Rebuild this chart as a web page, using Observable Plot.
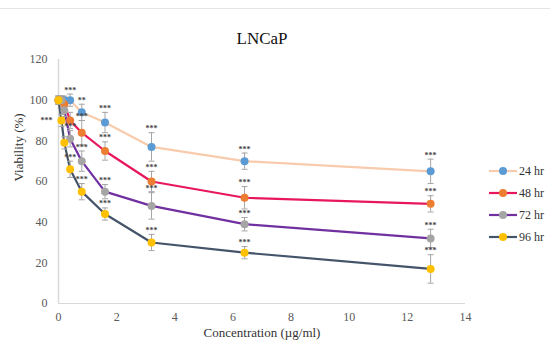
<!DOCTYPE html>
<html>
<head>
<meta charset="utf-8">
<script src="https://cdn.jsdelivr.net/npm/d3@7"></script>
<script src="https://cdn.jsdelivr.net/npm/@observablehq/plot@0.6"></script>
<style>
  html, body { margin: 0; padding: 0; background: #fff; }
  #wrap { position: relative; width: 550px; height: 347px; font-family: "Liberation Serif", "Times New Roman", serif; }
  #topline { position: absolute; left: 0; top: 8px; width: 550px; height: 1px; background: #e4e4e4; }
  #legend { position: absolute; left: 489px; top: 160px; font-size: 12px; color: #333; }
  .row { display: flex; align-items: center; height: 22px; }
  .row svg { margin-right: 2px; }
  svg text { font-family: "Liberation Serif", "Times New Roman", serif; }
</style>
</head>
<body>
<div id="wrap"><div id="topline"></div><div id="legend"></div></div>
<script>
const conc = [0, 0.1, 0.2, 0.4, 0.8, 1.6, 3.2, 6.4, 12.8];
const seriesNames = ["24 hr", "48 hr", "72 hr", "96 hr"];
const v24 = [100, 100, 100, 100, 94, 89, 77, 70, 65];
const e24 = [2, 2, 2, 3, 4, 5, 7, 4, 6];
const s24 = ["", "", "", "***", "**", "***", "***", "***", "***"];
const v48 = [100, 100, 98, 90, 84, 75, 60, 52, 49];
const e48 = [2, 2, 3, 4, 6, 4.5, 5, 5.5, 4];
const s48 = ["", "", "", "", "***", "***", "***", "***", "***"];
const v72 = [100, 100, 95, 81, 70, 55, 48, 39, 32];
const e72 = [2, 2, 3, 4, 5, 3.5, 6.5, 3.3, 4.5];
const s72 = ["", "", "", "***", "***", "***", "***", "***", "***"];
const v96 = [100, 90, 79, 66, 55, 44, 30, 25, 17];
const e96 = [2, 3, 3, 4, 4, 3, 4, 3, 7];
const s96 = ["", "", "", "***", "***", "***", "***", "***", "***"];
const xTicks = [0, 2, 4, 6, 8, 10, 12, 14];
const yTicks = [0, 20, 40, 60, 80, 100, 120];

const lineColors = ["#F8CBAD", "#E8175D", "#7030A0", "#44546A"];
const dotColors = ["#5B9BD5", "#ED7D31", "#A5A5A5", "#FFC000"];

const vals = [v24, v48, v72, v96];
const errs = [e24, e48, e72, e96];
const stars = [s24, s48, s72, s96];
const data = [];
seriesNames.forEach((s, i) => conc.forEach((c, j) => data.push({series: s, c, v: vals[i][j], e: errs[i][j], star: stars[i][j]})));

const fillOf = d => dotColors[seriesNames.indexOf(d.series)];
const strokeOf = d => lineColors[seriesNames.indexOf(d.series)];
const capSymbol = {draw(ctx) { ctx.moveTo(-3, 0); ctx.lineTo(3, 0); }};

const chart = Plot.plot({
  width: 550, height: 347,
  marginLeft: 58, marginRight: 85, marginTop: 59, marginBottom: 44,
  style: {fontFamily: "'Liberation Serif', 'Times New Roman', serif", fontSize: "12px", color: "#595959", background: "transparent"},
  x: {type: "linear", domain: [0, 14]},
  y: {type: "linear", domain: [0, 120]},
  marks: [
    Plot.ruleX([0], {stroke: "#d9d9d9", strokeWidth: 1.5}),
    Plot.ruleY([0], {stroke: "#d9d9d9", strokeWidth: 1}),
    Plot.axisY({ticks: yTicks, tickSize: 0, tickPadding: 11, label: null}),
    Plot.axisX({ticks: xTicks, tickSize: 0, tickPadding: 9, label: null}),
    Plot.text(["Viability (%)"], {frameAnchor: "left", dx: -40, rotate: -90, fontSize: 13, fill: "#333"}),
    Plot.text(["Concentration (µg/ml)"], {frameAnchor: "bottom", dy: 33, fontSize: 13, fill: "#333"}),
    Plot.text(["LNCaP"], {frameAnchor: "top", dy: -28, fontSize: 17, fill: "#111"}),
    Plot.line(data, {x: "c", y: "v", z: "series", stroke: strokeOf, strokeWidth: 2.2}),
    Plot.ruleX(data, {x: "c", y1: d => d.v - d.e, y2: d => d.v + d.e, stroke: "#A5A5A5", strokeWidth: 1}),
    Plot.dot(data, {x: "c", y: d => d.v - d.e, symbol: capSymbol, r: 3, stroke: "#A5A5A5", strokeWidth: 1, fill: "none"}),
    Plot.dot(data, {x: "c", y: d => d.v + d.e, symbol: capSymbol, r: 3, stroke: "#A5A5A5", strokeWidth: 1, fill: "none"}),
    Plot.dot(data, {x: "c", y: "v", r: 4, fill: fillOf, stroke: "none"}),
    Plot.text(data, {x: "c", y: d => d.v + d.e, text: "star", dy: -4, fontSize: 8, fontWeight: "bold", fill: "#444"}),
    Plot.text(["***"], {x: 0, y: 90, dx: -12, fontSize: 8, fontWeight: "bold", fill: "#444"})
  ]
});
const wrap = document.getElementById("wrap");
wrap.insertBefore(chart, wrap.firstChild);
chart.style.position = "absolute"; chart.style.left = "0"; chart.style.top = "0";

const legend = document.getElementById("legend");
seriesNames.forEach((s, i) => {
  const row = document.createElement("div");
  row.className = "row";
  row.innerHTML = `<svg width="28" height="10"><line x1="0" y1="5" x2="28" y2="5" stroke="${lineColors[i]}" stroke-width="2.2"/><circle cx="14" cy="5" r="4" fill="${dotColors[i]}"/></svg><span>${s}</span>`;
  legend.appendChild(row);
});
</script>
</body>
</html>
